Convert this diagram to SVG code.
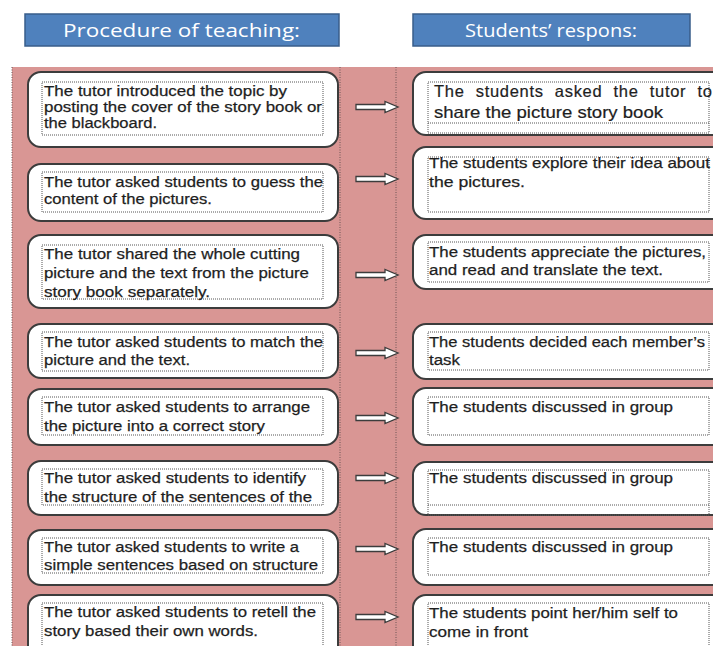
<svg xmlns="http://www.w3.org/2000/svg" xmlns:xlink="http://www.w3.org/1999/xlink" width="713" height="646" viewBox="0 0 713 646">
<style>
.hdr{fill:#4F81BD;stroke:#385D8A;stroke-width:1.5}
.htxt{fill:#ffffff;font-family:"Open Sans","Liberation Sans",sans-serif;font-size:19px}
.box{fill:#ffffff;stroke:#3c3c3c;stroke-width:2}
.frame{fill:none;stroke:#555;stroke-width:1;stroke-dasharray:1 1}
.t{fill:#1e1e1e;stroke:#1e1e1e;stroke-width:0.25;font-family:"Liberation Sans",Arial,sans-serif;font-size:15.5px}
.t2{fill:#1e1e1e;stroke:#1e1e1e;stroke-width:0.2;font-family:"Liberation Sans",Arial,sans-serif;font-size:16.5px}
.vline{stroke:#6b5555;stroke-width:1;stroke-dasharray:1 1.5}
.arr{fill:#ffffff;stroke:#3c3c3c;stroke-width:1.3}
</style>
<defs>
<path id="arrow" class="arr" d="M356,-2.5 H385 V-5.5 L398,0 L385,5.5 V2.5 H356 Z"/>
</defs>
<rect x="0" y="0" width="713" height="646" fill="#ffffff"/>
<rect x="12" y="67" width="701" height="579" fill="#D99694"/>
<line class="vline" x1="12" y1="67" x2="12" y2="646"/>
<line class="vline" x1="340" y1="67" x2="340" y2="646"/>
<line class="vline" x1="396" y1="67" x2="396" y2="646"/>

<g id="header-left">
<rect class="hdr" x="25" y="14" width="314" height="32"/>
<text class="htxt" x="63" y="37" textLength="237" lengthAdjust="spacingAndGlyphs">Procedure of teaching:</text>
</g>
<g id="header-right">
<rect class="hdr" x="413" y="14" width="277" height="32"/>
<text class="htxt" x="465" y="37" textLength="172" lengthAdjust="spacingAndGlyphs">Students’ respons:</text>
</g>

<g id="connectors">
<use xlink:href="#arrow" href="#arrow" transform="translate(0,107)"/>
<use xlink:href="#arrow" href="#arrow" transform="translate(0,179)"/>
<use xlink:href="#arrow" href="#arrow" transform="translate(0,275)"/>
<use xlink:href="#arrow" href="#arrow" transform="translate(0,353)"/>
<use xlink:href="#arrow" href="#arrow" transform="translate(0,418)"/>
<use xlink:href="#arrow" href="#arrow" transform="translate(0,478)"/>
<use xlink:href="#arrow" href="#arrow" transform="translate(0,549)"/>
<use xlink:href="#arrow" href="#arrow" transform="translate(0,617)"/>
</g>

<g id="L1">
<rect class="box" x="28" y="72" width="310" height="75" rx="13"/>
<rect class="frame" x="42" y="82" width="281" height="53"/>
<text class="t" x="44" y="96" textLength="243" lengthAdjust="spacingAndGlyphs">The tutor introduced the topic by</text>
<text class="t" x="44" y="112" textLength="278" lengthAdjust="spacingAndGlyphs">posting the cover of the story book or</text>
<text class="t" x="44" y="128" textLength="113" lengthAdjust="spacingAndGlyphs">the blackboard.</text>
</g>
<g id="L2">
<rect class="box" x="28" y="164" width="310" height="57" rx="13"/>
<rect class="frame" x="42" y="172" width="281" height="40"/>
<text class="t" x="44" y="187" textLength="279" lengthAdjust="spacingAndGlyphs">The tutor asked students to guess the</text>
<text class="t" x="44" y="204" textLength="168" lengthAdjust="spacingAndGlyphs">content of the pictures.</text>
</g>
<g id="L3">
<rect class="box" x="28" y="235" width="310" height="73" rx="13"/>
<rect class="frame" x="42" y="245" width="281" height="54"/>
<text class="t" x="44" y="259" textLength="256" lengthAdjust="spacingAndGlyphs">The tutor shared the whole cutting</text>
<text class="t" x="44" y="278" textLength="265" lengthAdjust="spacingAndGlyphs">picture and the text from the picture</text>
<text class="t" x="44" y="297" textLength="166" lengthAdjust="spacingAndGlyphs">story book separately.</text>
</g>
<g id="L4">
<rect class="box" x="28" y="324" width="310" height="54" rx="13"/>
<rect class="frame" x="42" y="332" width="281" height="39"/>
<text class="t" x="44" y="347" textLength="279" lengthAdjust="spacingAndGlyphs">The tutor asked students to match the</text>
<text class="t" x="44" y="365" textLength="146" lengthAdjust="spacingAndGlyphs">picture and the text.</text>
</g>
<g id="L5">
<rect class="box" x="28" y="389" width="310" height="56" rx="13"/>
<rect class="frame" x="42" y="397" width="281" height="38"/>
<text class="t" x="44" y="412" textLength="266" lengthAdjust="spacingAndGlyphs">The tutor asked students to arrange</text>
<text class="t" x="44" y="431" textLength="221" lengthAdjust="spacingAndGlyphs">the picture into a correct story</text>
</g>
<g id="L6">
<rect class="box" x="28" y="461" width="310" height="54" rx="13"/>
<rect class="frame" x="42" y="469" width="281" height="36"/>
<text class="t" x="44" y="483" textLength="262" lengthAdjust="spacingAndGlyphs">The tutor asked students to identify</text>
<text class="t" x="44" y="502" textLength="268" lengthAdjust="spacingAndGlyphs">the structure of the sentences of the</text>
</g>
<g id="L7">
<rect class="box" x="28" y="530" width="310" height="55" rx="13"/>
<rect class="frame" x="42" y="538" width="281" height="35"/>
<text class="t" x="44" y="552" textLength="255" lengthAdjust="spacingAndGlyphs">The tutor asked students to write a</text>
<text class="t" x="44" y="570" textLength="274" lengthAdjust="spacingAndGlyphs">simple sentences based on structure</text>
</g>
<g id="L8">
<rect class="box" x="28" y="595" width="310" height="70" rx="13"/>
<rect class="frame" x="42" y="603" width="281" height="50"/>
<text class="t" x="44" y="617" textLength="272" lengthAdjust="spacingAndGlyphs">The tutor asked students to retell the</text>
<text class="t" x="44" y="636" textLength="214" lengthAdjust="spacingAndGlyphs">story based their own words.</text>
</g>

<g id="R1">
<rect class="box" x="413" y="72" width="320" height="63" rx="13"/>
<rect class="frame" x="428" y="82" width="281" height="51"/>
<line class="frame" x1="428" y1="123" x2="709" y2="123"/>
<text class="t2" x="434" y="97" textLength="278" lengthAdjust="spacing" word-spacing="6">The students asked the tutor to</text>
<text class="t2" x="434" y="118" textLength="229" lengthAdjust="spacingAndGlyphs">share the picture story book</text>
</g>
<g id="R2">
<rect class="box" x="413" y="147" width="320" height="72" rx="13"/>
<rect class="frame" x="428" y="157" width="281" height="55"/>
<text class="t" x="429" y="168" textLength="281" lengthAdjust="spacingAndGlyphs">The students explore their idea about</text>
<text class="t" x="429" y="187" textLength="96" lengthAdjust="spacingAndGlyphs">the pictures.</text>
</g>
<g id="R3">
<rect class="box" x="413" y="235" width="320" height="54" rx="13"/>
<rect class="frame" x="428" y="242" width="281" height="40"/>
<text class="t" x="429" y="257" textLength="277" lengthAdjust="spacingAndGlyphs">The students appreciate the pictures,</text>
<text class="t" x="429" y="275" textLength="234" lengthAdjust="spacingAndGlyphs">and read and translate the text.</text>
</g>
<g id="R4">
<rect class="box" x="413" y="324" width="320" height="55" rx="13"/>
<rect class="frame" x="428" y="332" width="281" height="38"/>
<text class="t" x="429" y="347" textLength="276" lengthAdjust="spacingAndGlyphs">The students decided each member’s</text>
<text class="t" x="429" y="365" textLength="31" lengthAdjust="spacingAndGlyphs">task</text>
</g>
<g id="R5">
<rect class="box" x="413" y="388" width="320" height="57" rx="13"/>
<rect class="frame" x="428" y="397" width="281" height="38"/>
<text class="t" x="429" y="412" textLength="244" lengthAdjust="spacingAndGlyphs">The students discussed in group</text>
</g>
<g id="R6">
<rect class="box" x="413" y="462" width="320" height="53" rx="13"/>
<rect class="frame" x="428" y="470" width="281" height="45"/>
<line class="frame" x1="428" y1="505" x2="709" y2="505"/>
<text class="t" x="429" y="483" textLength="244" lengthAdjust="spacingAndGlyphs">The students discussed in group</text>
</g>
<g id="R7">
<rect class="box" x="413" y="529" width="320" height="56" rx="13"/>
<rect class="frame" x="428" y="538" width="281" height="37"/>
<text class="t" x="429" y="552" textLength="244" lengthAdjust="spacingAndGlyphs">The students discussed in group</text>
</g>
<g id="R8">
<rect class="box" x="413" y="595" width="320" height="70" rx="13"/>
<rect class="frame" x="428" y="603" width="281" height="50"/>
<text class="t" x="429" y="618" textLength="249" lengthAdjust="spacingAndGlyphs">The students point her/him self to</text>
<text class="t" x="429" y="637" textLength="99" lengthAdjust="spacingAndGlyphs">come in front</text>
</g>
</svg>
